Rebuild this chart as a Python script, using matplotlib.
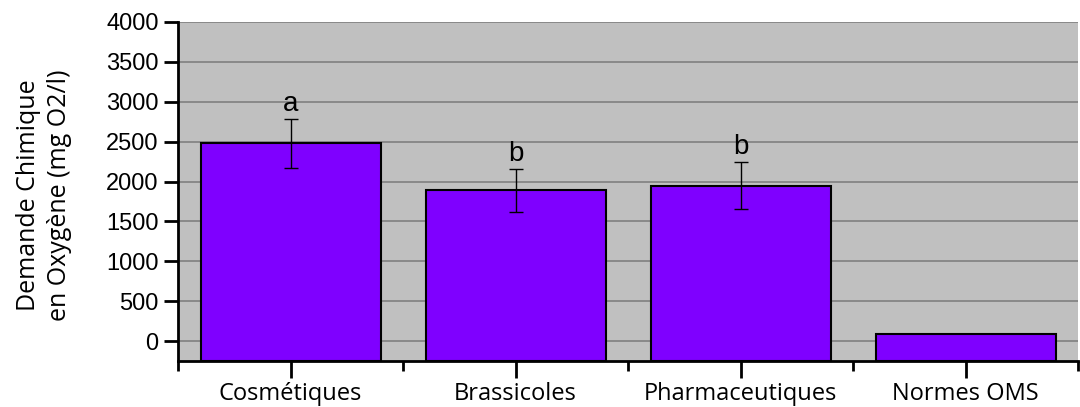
import matplotlib
matplotlib.use('Agg')
import matplotlib.pyplot as plt
import numpy as np
from matplotlib.ticker import FixedLocator

# Données
categories = ['Cosmétiques', 'Brassicoles', 'Pharmaceutiques', 'Normes OMS']
dco_mean = [2480, 1890, 1950, 90]
dco_err = [305, 270, 290, 0]
letters = ['a', 'b', 'b', '']
y_min = -250

fig = plt.figure(figsize=(10.8, 4.07), dpi=100)
ax = fig.add_axes([178 / 1080, 46 / 407, 900 / 1080, 339 / 407])
ax.set_facecolor('#c0c0c0')

x = np.arange(len(categories))
heights = [v - y_min for v in dco_mean]
ax.bar(x, heights, bottom=y_min, width=0.8, color='#7f00ff',
       edgecolor='black', linewidth=1.5, zorder=3)

for xi, v, e, lab in zip(x, dco_mean, dco_err, letters):
    if e > 0:
        ax.errorbar(xi, v, yerr=e, fmt='none', ecolor='black',
                    elinewidth=1, capsize=5, capthick=1, zorder=4)
    if lab:
        ax.text(xi, v + e + 100, lab, ha='center', va='baseline',
                fontsize=20, family='Liberation Sans', zorder=5)

ax.set_xlim(-0.5, len(categories) - 0.5)
ax.set_ylim(y_min, 4000)
ax.yaxis.set_major_locator(FixedLocator(np.arange(0, 4001, 500)))
ax.grid(True, axis='y', color='#808080', linewidth=1.2, zorder=1)
ax.set_axisbelow(True)

ax.set_xticks(x)
ax.set_xticklabels(categories, fontsize=17, family='Open Sans')
ax.xaxis.set_minor_locator(FixedLocator(np.arange(-0.5, len(categories), 1.0)))
ax.tick_params(axis='x', which='major', length=12, width=2, pad=3)
ax.tick_params(axis='x', which='minor', length=7, width=2)
ax.tick_params(axis='y', length=10, width=2, labelsize=17, pad=4)
for t in ax.get_yticklabels():
    t.set_family('Liberation Sans')

for s in ['top', 'right']:
    ax.spines[s].set_visible(False)
ax.spines['left'].set_linewidth(2)
ax.spines['bottom'].set_linewidth(2)

fig.text(44 / 1080, 1 - 195 / 407, 'Demande Chimique\nen Oxygène (mg O2/l)',
         rotation=90, ha='center', va='center', multialignment='center',
         fontsize=18, family='Open Sans', linespacing=1.35)

fig.savefig('out.png', dpi=100)
